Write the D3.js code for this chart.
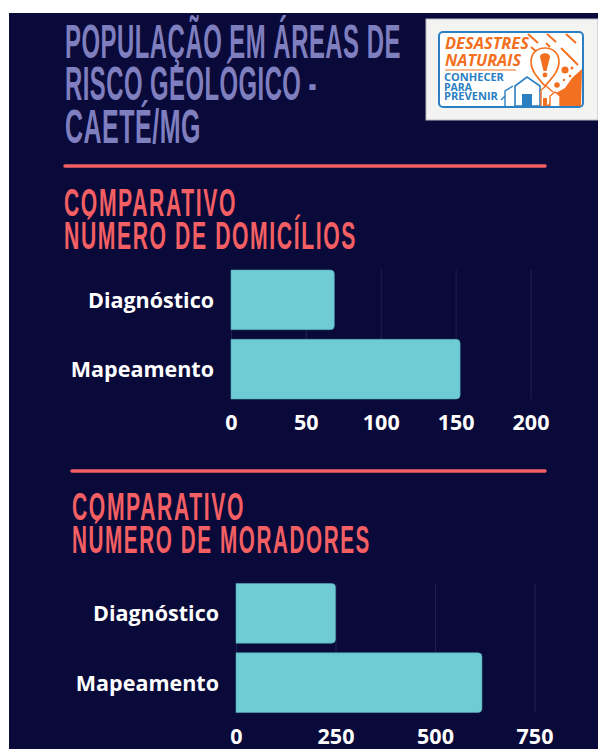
<!DOCTYPE html>
<html lang="pt">
<head>
<meta charset="utf-8">
<title>População em áreas de risco geológico - Caeté/MG</title>
<script src="https://cdn.jsdelivr.net/npm/d3@7"></script>
<style>
  html, body { margin: 0; padding: 0; background: #fff; }
  svg { display: block; }
  .head { font-family: "Liberation Sans Narrow", "Liberation Sans", sans-serif; font-weight: 700; }
  .lab { font-family: "Open Sans", sans-serif; font-weight: 700; fill: #fff; }
  .logo-t { font-family: "Open Sans", sans-serif; font-weight: 700; }
</style>
</head>
<body>
<div id="chart"></div>
<script>
var categories = ["Diagnóstico", "Mapeamento"];
var domicilios = [69, 153];
var moradores = [250, 618];
var domiciliosTicks = [0, 50, 100, 150, 200];
var moradoresTicks = [0, 250, 500, 750];
var titleLines = ["POPULAÇÃO EM ÁREAS DE", "RISCO GEOLÓGICO -", "CAETÉ/MG"];
var domiciliosHeading = ["COMPARATIVO", "NÚMERO DE DOMICÍLIOS"];
var moradoresHeading = ["COMPARATIVO", "NÚMERO DE MORADORES"];

var BG = "#0a0a3a", PURPLE = "#7f7fbf", RED = "#f45f63", TEAL = "#6fccd4", GRID = "#1f1f52";
var ORANGE = "#f37021", BLUE = "#2b7fc3";

var svg = d3.select("#chart").append("svg").attr("width", 598).attr("height", 749);
svg.append("rect").attr("x", 9).attr("y", 13).attr("width", 589).attr("height", 736).attr("fill", BG);

// scale text sideways to the measured width, the heading font is not installed
function fitText(parent, cls, str, x, y, size, width, color, spacing, italic) {
    var t = parent.append("text")
        .attr("class", cls)
        .attr("font-size", size)
        .attr("letter-spacing", spacing)
        .attr("font-style", italic ? "italic" : "normal")
        .attr("fill", color)
        .text(str);
    var k = width / t.node().getComputedTextLength();
    t.attr("transform", "translate(" + x + "," + y + ") scale(" + k + ",1)");
    return t;
}

function rule(x1, x2, y) {
    svg.append("line")
        .attr("x1", x1).attr("x2", x2).attr("y1", y).attr("y2", y)
        .attr("stroke", RED).attr("stroke-width", 3.5).attr("stroke-linecap", "round");
}

fitText(svg, "head", titleLines[0], 65, 58, 49, 336, PURPLE, 1);
fitText(svg, "head", titleLines[1], 65, 100, 49, 252, PURPLE, 1);
fitText(svg, "head", titleLines[2], 65, 143, 49, 136, PURPLE, 1);
rule(65, 545, 166);

fitText(svg, "head", domiciliosHeading[0], 64, 216, 39, 173, RED, 3);
fitText(svg, "head", domiciliosHeading[1], 64, 249, 39, 293, RED, 3);
rule(72, 545, 471);
fitText(svg, "head", moradoresHeading[0], 72, 520, 39, 173, RED, 3);
fitText(svg, "head", moradoresHeading[1], 72, 553, 39, 299, RED, 3);

function barPath(x0, x1, y0, y1, r) {
    return "M" + x0 + "," + y0 + "H" + (x1 - r) + "Q" + x1 + "," + y0 + " " + x1 + "," + (y0 + r) +
        "V" + (y1 - r) + "Q" + x1 + "," + y1 + " " + (x1 - r) + "," + y1 + "H" + x0 + "Z";
}

function drawBars(values, ticks, opts) {
    var x = d3.scaleLinear().domain([ticks[0], ticks[ticks.length - 1]]).range([opts.x0, opts.x1]);
    var y = d3.scaleBand().domain(categories).range([opts.y0, opts.y1]).paddingInner(0.14);
    var g = svg.append("g");

    var axis = d3.axisBottom(x)
        .tickValues(ticks)
        .tickSize(opts.y1 - opts.y0)
        .tickPadding(opts.pad)
        .tickFormat(d3.format("d"));
    var ax = g.append("g").attr("transform", "translate(0," + opts.y0 + ")").call(axis);
    ax.select(".domain").remove();
    ax.selectAll("line").attr("stroke", GRID).attr("stroke-width", 1);
    ax.selectAll("text").attr("class", "lab").attr("font-size", 21.5).attr("fill", "#fff");

    g.selectAll("path.bar").data(categories).enter().append("path")
        .attr("class", "bar")
        .attr("fill", TEAL)
        .attr("stroke", "#4fa9b6")
        .attr("stroke-width", 0.6)
        .attr("d", function (d, i) {
            return barPath(x(0), x(values[i]), y(d), y(d) + y.bandwidth(), 4);
        });

    g.selectAll("text.cat").data(categories).enter().append("text")
        .attr("class", "lab cat")
        .attr("x", opts.x0 - 17)
        .attr("y", function (d) { return y(d) + y.bandwidth() / 2 + 8; })
        .attr("text-anchor", "end")
        .attr("font-size", 21.5)
        .text(function (d) { return d; });
}

drawBars(domicilios, domiciliosTicks, {x0: 231, x1: 530.5, y0: 270, y1: 399, pad: 16});
drawBars(moradores, moradoresTicks, {x0: 236, x1: 534.5, y0: 583.5, y1: 712.5, pad: 16});

// logo box
var logo = svg.append("g");
logo.append("rect").attr("x", 426).attr("y", 19).attr("width", 172).attr("height", 101)
    .attr("fill", "#f3f3f2").attr("stroke", "#b9b9c4").attr("stroke-width", 1);
logo.append("rect").attr("x", 439).attr("y", 32).attr("width", 144).attr("height", 75).attr("rx", 4)
    .attr("fill", "#fff").attr("stroke", BLUE).attr("stroke-width", 2);

// orange corner and stripes
logo.append("path").attr("fill", ORANGE)
    .attr("d", "M582,69 L572,78 L565,88 L556,93 L549,104 L545,106 L581,106 Z");
[[528, 34, 538, 43], [547, 34, 556, 42], [566, 34, 576, 43], [531, 47, 539, 54], [561, 48, 578, 65], [546, 43, 550, 47]]
    .forEach(function (s) {
        logo.append("line").attr("x1", s[0]).attr("y1", s[1]).attr("x2", s[2]).attr("y2", s[3])
            .attr("stroke", ORANGE).attr("stroke-width", 2);
    });

// pin
logo.append("path").attr("fill", "#fff").attr("stroke", ORANGE).attr("stroke-width", 1.6)
    .attr("d", "M545,86 C536,76 531,70 531,62 C531,53 537,48 545,48 C553,48 559,53 559,62 C559,70 554,76 545,86 Z");
logo.append("path").attr("fill", ORANGE).attr("d", "M540,57 C540,52 550,52 550,57 L546.5,71 L543.5,71 Z");
logo.append("circle").attr("cx", 545).attr("cy", 75).attr("r", 2.4).attr("fill", ORANGE);
[[565, 70, 3.6], [557, 85, 2.8], [572, 68, 1.5], [564, 80, 1.2], [570, 76, 1.3]].forEach(function (c) {
    logo.append("circle").attr("cx", c[0]).attr("cy", c[1]).attr("r", c[2]).attr("fill", ORANGE);
});

// houses
logo.append("path").attr("fill", "#fff").attr("stroke", BLUE).attr("stroke-width", 1.6)
    .attr("d", "M515,106 V86 L527,77 L540,86 V106 Z");
logo.append("path").attr("fill", "none").attr("stroke", BLUE).attr("stroke-width", 1.4)
    .attr("d", "M505,106 V91 L513,86 M501,100 L505,96");
logo.append("rect").attr("x", 522).attr("y", 94).attr("width", 10).attr("height", 12).attr("fill", BLUE);
logo.append("path").attr("fill", "#fff").attr("stroke", ORANGE).attr("stroke-width", 1.4)
    .attr("d", "M541,106 V90 L546,86 L553,92 M550,106 V96 L555,92 L560,96 V106");
logo.append("rect").attr("x", 543).attr("y", 98).attr("width", 4).attr("height", 8).attr("fill", ORANGE);

fitText(logo, "logo-t", "DESASTRES", 445, 49, 16, 84, ORANGE, 0, true);
fitText(logo, "logo-t", "NATURAIS", 445, 66, 16, 76, ORANGE, 0, true);
logo.append("line").attr("x1", 445).attr("x2", 516).attr("y1", 70).attr("y2", 70)
    .attr("stroke", ORANGE).attr("stroke-width", 1.2);
fitText(logo, "logo-t", "CONHECER", 444, 81, 10, 60, BLUE, 0);
fitText(logo, "logo-t", "PARA", 444, 90.5, 10, 28, BLUE, 0);
fitText(logo, "logo-t", "PREVENIR", 444, 100, 10, 54, BLUE, 0);
</script>
</body>
</html>
